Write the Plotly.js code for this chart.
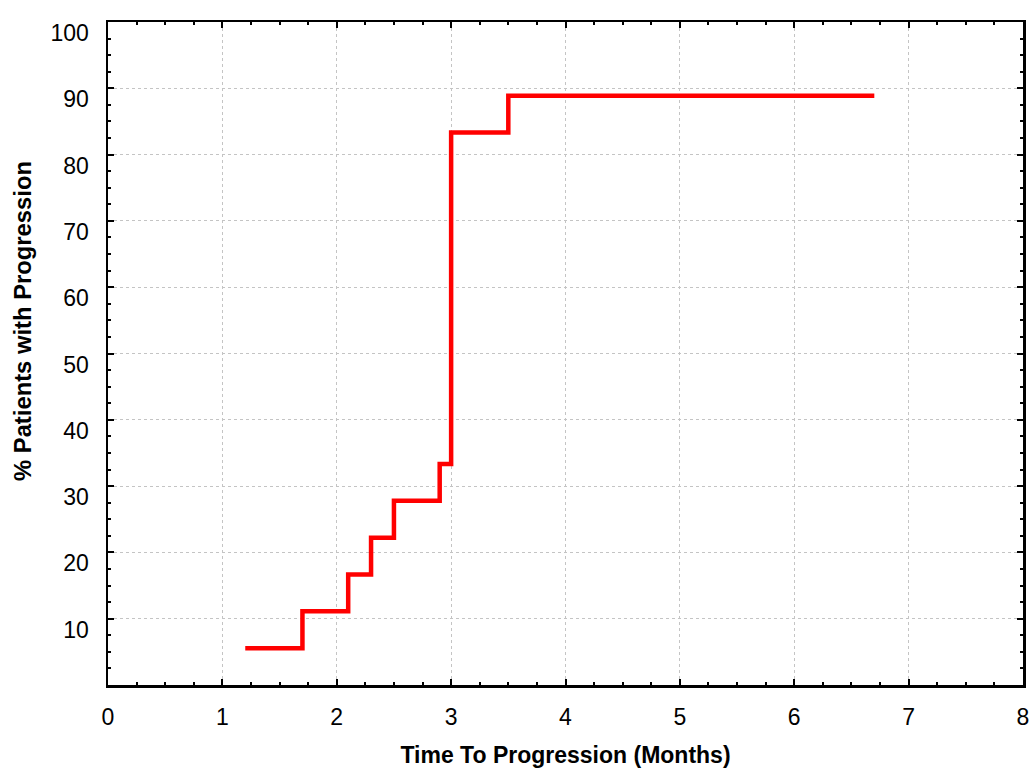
<!DOCTYPE html>
<html>
<head>
<meta charset="utf-8">
<script src="https://cdn.plot.ly/plotly-3.0.1.min.js"></script>
<style>html,body{margin:0;padding:0;background:#fff;}#chart{width:1033px;height:776px;}</style>
</head>
<body>
<div id="chart"></div>
<script>
var timeMonths = [1.2, 1.7, 2.1, 2.3, 2.5, 2.9, 3.0, 3.5, 6.7];
var pctProgression = [5.56, 11.11, 16.67, 22.22, 27.78, 33.33, 83.33, 88.89, 88.89];
var xTickVals = [0, 1, 2, 3, 4, 5, 6, 7, 8];
var xTickText = ['0', '1', '2', '3', '4', '5', '6', '7', '8'];
var yTickVals = [0, 10, 20, 30, 40, 50, 60, 70, 80, 90, 100];
var yTickText = ['', '10', '20', '30', '40', '50', '60', '70', '80', '90', '100'];

var trace = {
  x: timeMonths,
  y: pctProgression,
  type: 'scatter',
  mode: 'lines',
  line: {shape: 'hv', color: '#ff0000', width: 4.5},
  hoverinfo: 'x+y'
};

var FONT = 'Liberation Sans, Arial, sans-serif';

var axisCommon = {
  showline: true,
  linecolor: '#000',
  linewidth: 2.5,
  mirror: 'allticks',
  ticks: 'inside',
  ticklen: 6,
  tickwidth: 2,
  tickcolor: '#000',
  showgrid: true,
  gridcolor: '#c4c4c4',
  gridwidth: 1,
  griddash: 'dot',
  zeroline: false,
  tickfont: {family: FONT, size: 23, color: '#000'}
};

var layout = {
  width: 1033,
  height: 776,
  margin: {l: 108, r: 10, t: 22, b: 91},
  paper_bgcolor: '#fff',
  plot_bgcolor: '#fff',
  showlegend: false,
  xaxis: Object.assign({}, axisCommon, {
    range: [0, 8],
    tickmode: 'array',
    tickvals: xTickVals,
    ticktext: xTickText,
    ticklabelstandoff: 10,
    minor: {tickmode: 'linear', tick0: 0, dtick: 0.25, ticks: 'inside', ticklen: 3, tickwidth: 2, tickcolor: '#000', showgrid: false},
    title: {text: '<b>Time To Progression (Months)</b>', font: {family: FONT, size: 23, color: '#000'}, standoff: 18}
  }),
  yaxis: Object.assign({}, axisCommon, {
    range: [0, 100],
    tickmode: 'array',
    tickvals: yTickVals,
    ticktext: yTickText,
    ticklabelstandoff: 12,
    ticklabelshift: 11,
    minor: {tickmode: 'linear', tick0: 0, dtick: 2.5, ticks: 'inside', ticklen: 3, tickwidth: 2, tickcolor: '#000', showgrid: false}
  }),
  annotations: [{
    text: '<b>% Patients with Progression</b>',
    xref: 'paper', yref: 'paper',
    x: -0.094, y: 0.549,
    xanchor: 'center', yanchor: 'middle',
    textangle: -90,
    showarrow: false,
    font: {family: FONT, size: 23.8, color: '#000'}
  }]
};

Plotly.newPlot('chart', [trace], layout, {displayModeBar: false, staticPlot: true});
</script>
</body>
</html>
